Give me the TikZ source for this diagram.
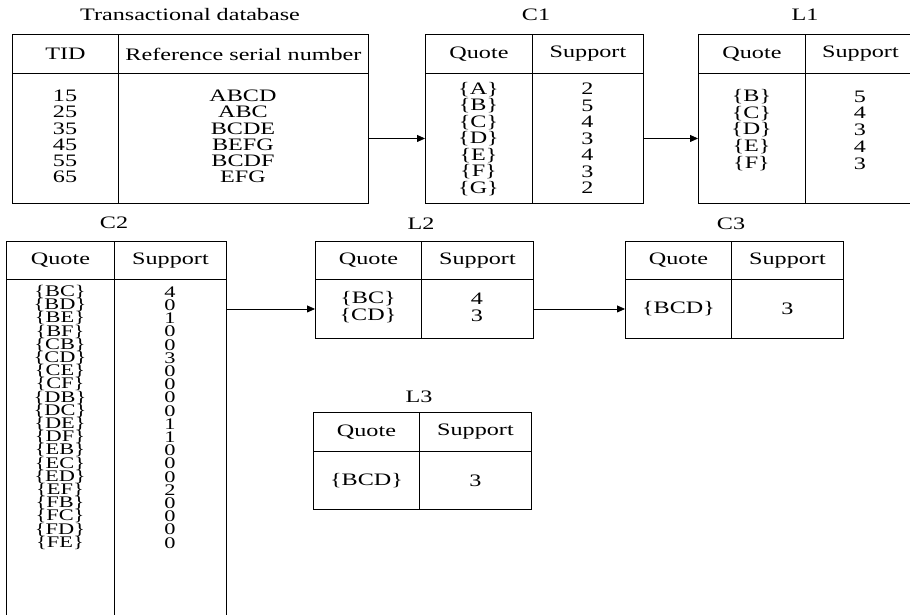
\documentclass[tikz,border=0pt]{standalone}
\usepackage{fontspec}
\setmainfont{Liberation Serif}[FakeStretch=1.38]
\usetikzlibrary{arrows.meta}
% let stacked lines sit closer than their natural height
\newcommand\tightlines{\lineskiplimit=-100pt\relax\lineskip=0pt\relax}
\begin{document}
\begin{tikzpicture}[x=1pt,y=-1pt,
  every node/.style={font=\fontsize{17.5}{17.5}\selectfont},
  cell/.style={draw,line width=0.95pt,inner sep=0pt,anchor=north west},
  hcell/.style={cell,minimum height=39pt},
  list/.style={align=center,inner sep=0pt,
    font=\fontsize{17.5}{#1}\selectfont\tightlines},
  longlist/.style={align=center,inner sep=0pt,
    font=\fontsize{16.2}{13.2}\selectfont\tightlines},
  title/.style={inner sep=0pt},
  flow/.style={line width=0.8pt,-{Triangle[length=8pt,width=7pt]}}]
\useasboundingbox (0,0) rectangle (910,615);

% ---- transactional database ----
\node[title] (tdbt) at (190,15) {Transactional database};
\node[hcell,minimum width=106pt] (tdbhq) at (12,34) {TID};
\node[hcell,minimum width=250pt] (tdbhs) at (118,34) {Reference serial number};
\node[cell,minimum width=106pt,minimum height=130pt] (tdbbq) at (12,73) {};
\node[cell,minimum width=250pt,minimum height=130pt] (tdbbs) at (118,73) {};
\node[list=16.2] (tdbid) at (65,136.5) {15\\25\\35\\45\\55\\65};
\node[list=16.2] (tdbref) at (243,136.5) {ABCD\\ABC\\BCDE\\BEFG\\BCDF\\EFG};

% ---- C1 ----
\node[title] (c1t) at (536,15) {C1};
\node[hcell,minimum width=107pt] (c1hq) at (425,34) {Quote};
\node[hcell,minimum width=111pt] (c1hs) at (532,34) {Support};
\node[cell,minimum width=107pt,minimum height=130pt] (c1bq) at (425,73) {};
\node[cell,minimum width=111pt,minimum height=130pt] (c1bs) at (532,73) {};
\node[list=16.5] (c1q) at (478.5,138.7) {\{A\}\\\{B\}\\\{C\}\\\{D\}\\\{E\}\\\{F\}\\\{G\}};
\node[list=16.5] (c1s) at (587.5,138.7) {2\\5\\4\\3\\4\\3\\2};

% ---- L1 ----
\node[title] (l1t) at (805,15) {L1};
\node[hcell,minimum width=107pt] (l1hq) at (698,34) {Quote};
\node[hcell,minimum width=110pt] (l1hs) at (805,34) {Support};
\node[cell,minimum width=107pt,minimum height=130pt] (l1bq) at (698,73) {};
\node[cell,minimum width=110pt,minimum height=130pt] (l1bs) at (805,73) {};
\node[list=16.8] (l1q) at (751.5,130) {\{B\}\\\{C\}\\\{D\}\\\{E\}\\\{F\}};
\node[list=16.8] (l1s) at (860,130) {5\\4\\3\\4\\3};

% ---- C2 ----
\node[title] (c2t) at (114,223) {C2};
\node[cell,minimum height=38pt,minimum width=108pt] (c2hq) at (6,241) {Quote};
\node[cell,minimum height=38pt,minimum width=112pt] (c2hs) at (114,241) {Support};
\node[cell,minimum width=108pt,minimum height=350pt] (c2bq) at (6,279) {};
\node[cell,minimum width=112pt,minimum height=350pt] (c2bs) at (114,279) {};
\node[longlist] (c2q) at (60,417.4) {\{BC\}\\\{BD\}\\\{BE\}\\\{BF\}\\\{CB\}\\\{CD\}\\\{CE\}\\\{CF\}\\\{DB\}\\\{DC\}\\\{DE\}\\\{DF\}\\\{EB\}\\\{EC\}\\\{ED\}\\\{EF\}\\\{FB\}\\\{FC\}\\\{FD\}\\\{FE\}};
\node[longlist] (c2s) at (170,417.4) {4\\0\\1\\0\\0\\3\\0\\0\\0\\0\\1\\1\\0\\0\\0\\2\\0\\0\\0\\0};

% ---- L2 ----
\node[title] (l2t) at (421,224) {L2};
\node[cell,minimum height=38pt,minimum width=106pt] (l2hq) at (315,241) {Quote};
\node[cell,minimum height=38pt,minimum width=112pt] (l2hs) at (421,241) {Support};
\node[cell,minimum width=106pt,minimum height=59pt] (l2bq) at (315,279) {};
\node[cell,minimum width=112pt,minimum height=59pt] (l2bs) at (421,279) {};
\node[list=17] (l2q) at (368,307.5) {\{BC\}\\\{CD\}};
\node[list=17] (l2s) at (477,307.5) {4\\3};

% ---- C3 ----
\node[title] (c3t) at (731,224) {C3};
\node[cell,minimum height=38pt,minimum width=106pt] (c3hq) at (625,241) {Quote};
\node[cell,minimum height=38pt,minimum width=112pt] (c3hs) at (731,241) {Support};
\node[cell,minimum width=106pt,minimum height=59pt] (c3bq) at (625,279) {\{BCD\}};
\node[cell,minimum width=112pt,minimum height=59pt] (c3bs) at (731,279) {3};

% ---- L3 ----
\node[title] (l3t) at (419,397) {L3};
\node[hcell,minimum width=106pt] (l3hq) at (313,412) {Quote};
\node[hcell,minimum width=112pt] (l3hs) at (419,412) {Support};
\node[cell,minimum width=106pt,minimum height=58pt] (l3bq) at (313,451) {\{BCD\}};
\node[cell,minimum width=112pt,minimum height=58pt] (l3bs) at (419,451) {3};

% ---- flow between the tables ----
\draw[flow] (tdbbs.east) -- (c1bq.west);
\draw[flow] (c1bs.east) -- (l1bq.west);
\draw[flow] (c2bs.east |- l2bq.west) -- (l2bq.west);
\draw[flow] (l2bs.east) -- (c3bq.west);
\end{tikzpicture}
\end{document}
